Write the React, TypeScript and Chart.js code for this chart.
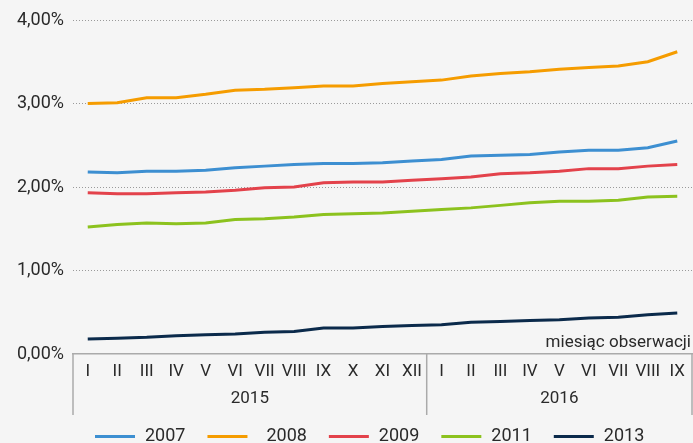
import React, { useEffect, useRef } from "react";
import { Chart, registerables } from "chart.js";

Chart.register(...registerables);

const months = ["I", "II", "III", "IV", "V", "VI", "VII", "VIII", "IX", "X", "XI", "XII", "I", "II", "III", "IV", "V", "VI", "VII", "VIII", "IX"];
const years = ["2015", "2016"];
const yearSpans = [12, 9];
const axisTitle = "miesiąc obserwacji";

const seriesLabels = ["2007", "  2008", "2009", "2011", "2013"];
const s2007 = [2.18, 2.17, 2.19, 2.19, 2.2, 2.23, 2.25, 2.27, 2.28, 2.28, 2.29, 2.31, 2.33, 2.37, 2.38, 2.39, 2.42, 2.44, 2.44, 2.47, 2.55];
const s2008 = [3.0, 3.01, 3.07, 3.07, 3.11, 3.16, 3.17, 3.19, 3.21, 3.21, 3.24, 3.26, 3.28, 3.33, 3.36, 3.38, 3.41, 3.43, 3.45, 3.5, 3.62];
const s2009 = [1.93, 1.92, 1.92, 1.93, 1.94, 1.96, 1.99, 2.0, 2.05, 2.06, 2.06, 2.08, 2.1, 2.12, 2.16, 2.17, 2.19, 2.22, 2.22, 2.25, 2.27];
const s2011 = [1.52, 1.55, 1.57, 1.56, 1.57, 1.61, 1.62, 1.64, 1.67, 1.68, 1.69, 1.71, 1.73, 1.75, 1.78, 1.81, 1.83, 1.83, 1.84, 1.88, 1.89];
const s2013 = [0.18, 0.19, 0.2, 0.22, 0.23, 0.24, 0.26, 0.27, 0.31, 0.31, 0.33, 0.34, 0.35, 0.38, 0.39, 0.4, 0.41, 0.43, 0.44, 0.47, 0.49];
const seriesValues = [s2007, s2008, s2009, s2011, s2013];
const seriesColors = ["#3d8fd1", "#f59c00", "#e3424b", "#8cc21e", "#0b2a4b"];

const yMin = 0;
const yMax = 4;
const yStep = 1;

const FONT = "Roboto, 'DejaVu Sans', sans-serif";
const TEXT = "#2a2a2a";

const decorPlugin = {
  id: "decor",
  afterDraw(chart: any) {
    const { ctx, chartArea } = chart;
    const x = chart.scales.x;
    const half = (x.getPixelForValue(1) - x.getPixelForValue(0)) / 2;
    ctx.save();
    ctx.strokeStyle = "#aaaaaa";
    ctx.lineWidth = 1.5;
    ctx.fillStyle = TEXT;
    ctx.font = `17px ${FONT}`;
    ctx.textAlign = "center";
    ctx.textBaseline = "middle";
    let idx = 0;
    const bottom = 415;
    years.forEach((yr, k) => {
      const first = idx;
      const last = idx + yearSpans[k] - 1;
      const xl = x.getPixelForValue(first) - half;
      const xr = x.getPixelForValue(last) + half;
      ctx.beginPath();
      ctx.moveTo(xl, chartArea.bottom);
      ctx.lineTo(xl, bottom);
      ctx.stroke();
      if (k === years.length - 1) {
        ctx.beginPath();
        ctx.moveTo(xr, chartArea.bottom);
        ctx.lineTo(xr, bottom);
        ctx.stroke();
      }
      ctx.fillText(yr, (xl + xr) / 2, 399);
      idx += yearSpans[k];
    });
    ctx.textAlign = "right";
    ctx.fillText(axisTitle, chartArea.right - 1, 343);
    let lx = 95;
    const ly = 436.5;
    ctx.font = `18px ${FONT}`;
    ctx.textAlign = "left";
    chart.data.datasets.forEach((ds: any) => {
      ctx.strokeStyle = ds.borderColor;
      ctx.lineWidth = 3;
      ctx.beginPath();
      ctx.moveTo(lx, ly);
      ctx.lineTo(lx + 40, ly);
      ctx.stroke();
      ctx.fillStyle = TEXT;
      ctx.fillText(ds.label, lx + 50, 436);
      lx += 50 + ctx.measureText(ds.label).width + 22;
    });
    ctx.restore();
  },
};

export default function App() {
  const ref = useRef<HTMLCanvasElement>(null);
  useEffect(() => {
    document.body.style.margin = "0";
    document.body.style.background = "#f5f5f5";
    const chart = new Chart(ref.current as HTMLCanvasElement, {
      type: "line",
      data: {
        labels: months,
        datasets: seriesLabels.map((l, i) => ({
          label: l,
          data: seriesValues[i],
          borderColor: seriesColors[i],
          backgroundColor: seriesColors[i],
          borderWidth: 3,
          pointRadius: 0,
          tension: 0,
          fill: false,
        })),
      },
      options: {
        animation: false,
        responsive: false,
        layout: { padding: { top: 20, right: 1, left: 0, bottom: 0 } },
        plugins: { legend: { display: false }, tooltip: { enabled: false } },
        scales: {
          x: {
            offset: true,
            grid: { display: false, drawTicks: false },
            border: { display: true, color: "#aaaaaa", width: 1.5 },
            ticks: {
              color: TEXT,
              font: { family: FONT, size: 17 },
              padding: 8,
              autoSkip: false,
              maxRotation: 0,
            },
            afterFit: (s: any) => {
              s.height = 89;
            },
          },
          y: {
            min: yMin,
            max: yMax,
            grid: {
              drawTicks: false,
              color: (c: any) => (c.tick && c.tick.value === 0 ? "rgba(0,0,0,0)" : "#9a9a9a"),
              lineWidth: 1,
            },
            border: { display: false, dash: [1, 2] },
            ticks: {
              stepSize: yStep,
              color: TEXT,
              font: { family: FONT, size: 18 },
              padding: 9,
              callback: (v: any) => Number(v).toFixed(2).replace(".", ",") + "%",
            },
            afterFit: (s: any) => {
              s.width = 73;
            },
          },
        },
      },
      plugins: [decorPlugin],
    });
    return () => chart.destroy();
  }, []);
  return (
    <div style={{ width: 693, height: 443, background: "#f5f5f5" }}>
      <canvas ref={ref} width={693} height={443} />
    </div>
  );
}
